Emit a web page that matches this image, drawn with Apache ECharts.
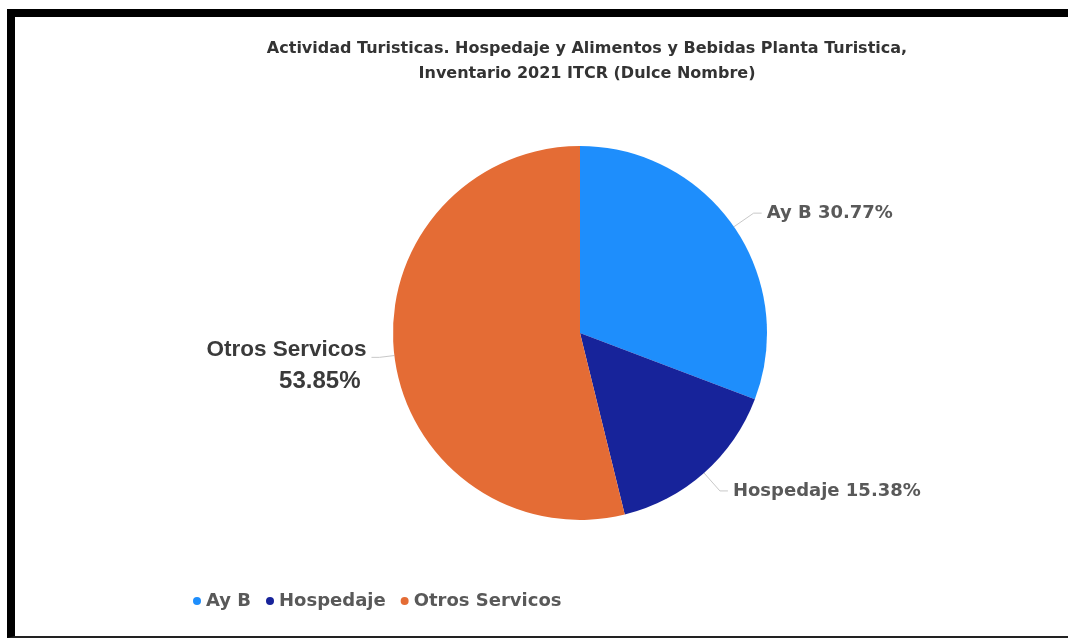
<!DOCTYPE html>
<html>
<head>
<meta charset="utf-8">
<script src="https://cdn.jsdelivr.net/npm/echarts@6/dist/echarts.min.js"></script>
<style>
  html, body { margin: 0; padding: 0; background: #fff; }
  #chart { position: absolute; left: 0; top: 0; width: 1068px; height: 639px; }
  #frame { position: absolute; left: 7px; top: 9px; width: 1061px; height: 619px;
           border-top: 8px solid #000; border-left: 8px solid #000; border-bottom: 2px solid #222;
           pointer-events: none; }
</style>
</head>
<body>
<div id="chart"></div>
<div id="frame"></div>
<script>
const titleLines = ['Actividad Turisticas. Hospedaje y Alimentos y Bebidas Planta Turistica,', 'Inventario 2021 ITCR (Dulce Nombre)'];
const categories = ['Ay B', 'Hospedaje', 'Otros Servicos'];
const values = [4, 2, 7];
const colors = ['#1e8efc', '#17239a', '#e46c35'];

const chart = echarts.init(document.getElementById('chart'));

const data = categories.map((name, i) => {
  const item = { name: name, value: values[i], itemStyle: { color: colors[i] } };
  if (i === 2) {
    item.label = {
      formatter: '{n|{b}}\n{p|{d}%}',
      padding: [16, 0, 0, 0],
      rich: {
        n: { fontFamily: 'Liberation Sans', fontSize: 22.5, fontWeight: 'bold', color: '#3a3a3a', lineHeight: 32, align: 'right' },
        p: { fontFamily: 'Liberation Sans', fontSize: 24, fontWeight: 'bold', color: '#3a3a3a', lineHeight: 32, align: 'right', padding: [0, 6, 0, 0] }
      }
    };
    item.labelLine = { length: 15, length2: 8 };
  }
  return item;
});

chart.setOption({
  backgroundColor: '#ffffff',
  animation: false,
  title: {
    text: titleLines.join('\n'),
    left: 582,
    top: 31,
    textAlign: 'center',
    textStyle: { fontFamily: 'DejaVu Sans', fontSize: 16, fontWeight: 'bold', color: '#333333', lineHeight: 25 }
  },
  legend: {
    data: categories,
    left: 188,
    top: 587,
    icon: 'circle',
    itemWidth: 8,
    itemHeight: 8,
    itemGap: 15,
    textStyle: { fontFamily: 'DejaVu Sans', fontSize: 18, fontWeight: 'bold', color: '#595959' }
  },
  series: [{
    type: 'pie',
    center: [580, 333],
    radius: 187,
    startAngle: 90,
    clockwise: true,
    avoidLabelOverlap: false,
    data: data,
    label: {
      show: true,
      position: 'outside',
      formatter: '{b} {d}%',
      fontFamily: 'DejaVu Sans',
      fontSize: 18,
      fontWeight: 'bold',
      color: '#595959'
    },
    labelLine: {
      show: true,
      length: 24,
      length2: 8,
      lineStyle: { color: '#c8c8c8', width: 1 }
    },
    emphasis: { disabled: true }
  }]
});
</script>
</body>
</html>
